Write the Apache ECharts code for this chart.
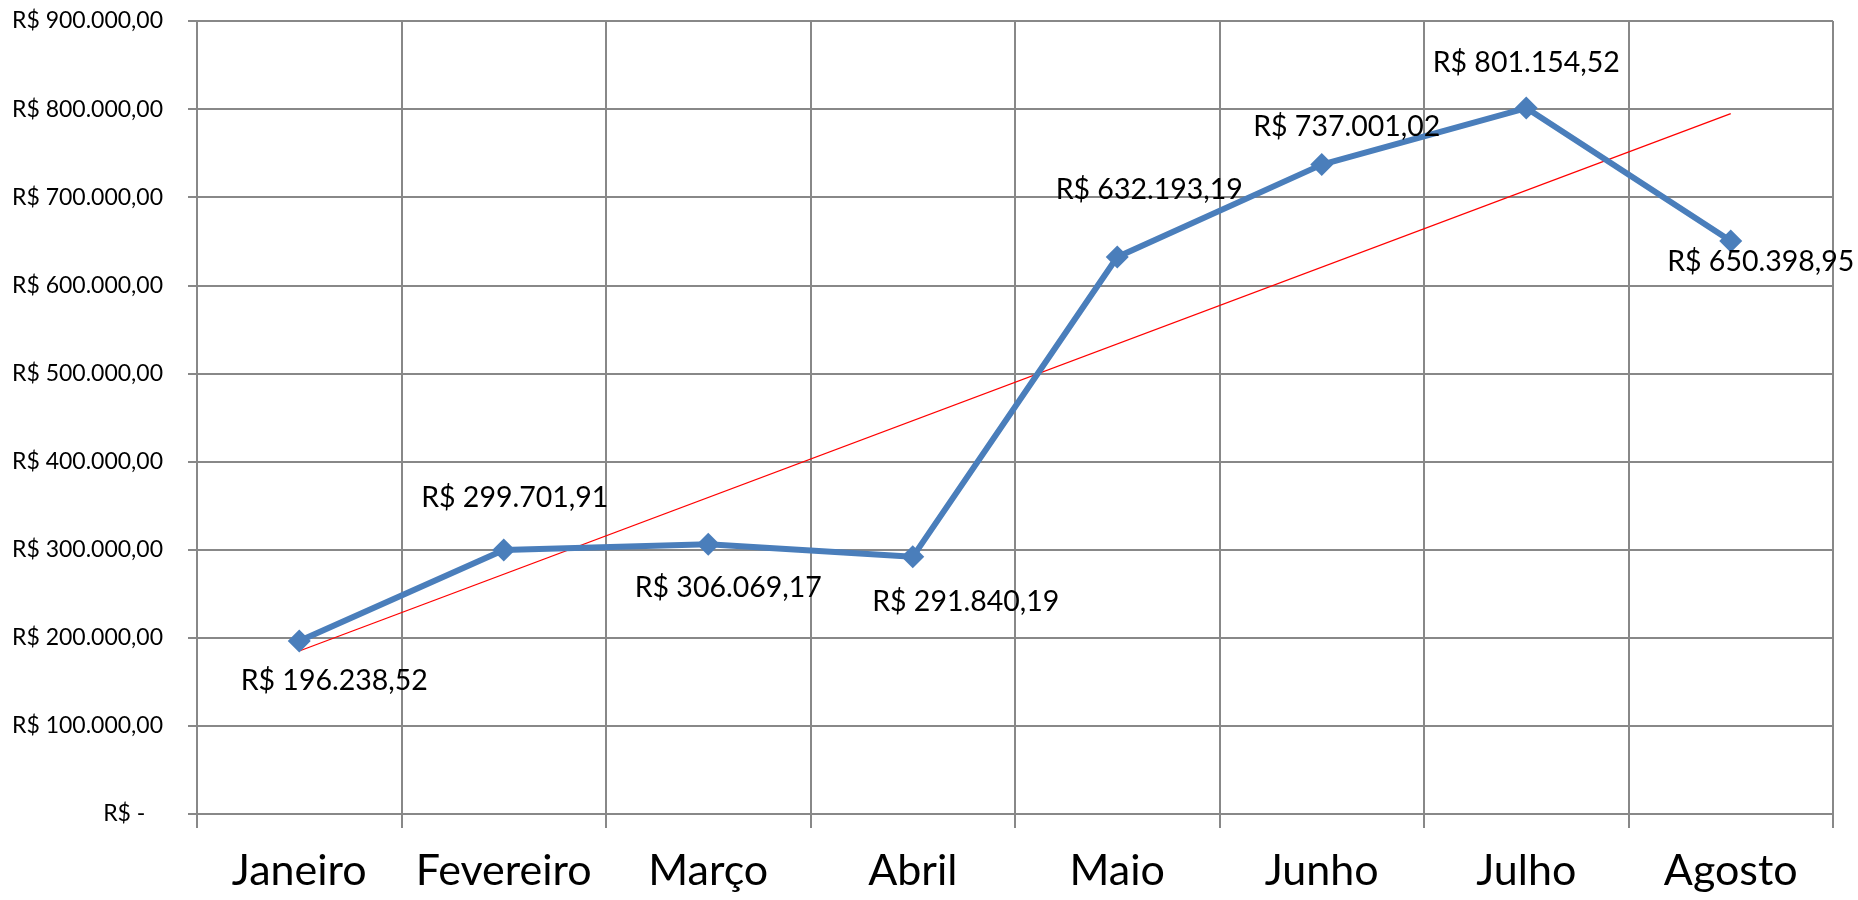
<!DOCTYPE html>
<html>
<head>
<meta charset="utf-8">
<script src="https://cdn.jsdelivr.net/npm/echarts@6/dist/echarts.min.js"></script>
<style>
html, body { margin: 0; padding: 0; background: #fff; }
#chart { width: 1858px; height: 900px; }
</style>
</head>
<body>
<div id="chart"></div>
<script>
// valores
const months = ['Janeiro', 'Fevereiro', 'Março', 'Abril', 'Maio', 'Junho', 'Julho', 'Agosto']
const revenue = [196238.52, 299701.91, 306069.17, 291840.19, 632193.19, 737001.02, 801154.52, 650398.95]
// linha de tendência: valor no primeiro e no último mês
const trendEnds = [185000, 795000]

// deslocamento dos rótulos em relação ao ponto (px)
const labelOffsets = [[35, 40], [11, -52], [20, 43], [53, 45], [32, -67], [25, -38], [0, -45], [30, 21]]

function brl (v, dec) {
    const parts = v.toFixed(dec).split('.')
    const int = parts[0].replace(/\B(?=(\d{3})+(?!\d))/g, '.')
    return 'R$ ' + int + (dec ? ',' + parts[1] : '')
}

const font = 'Lato'
const chart = echarts.init(document.getElementById('chart'))

const option = {
    animation: false,
    grid: {
        left: 197,
        right: 25,
        top: 21,
        bottom: 86
    },
    xAxis: {
        type: 'category',
        data: months,
        boundaryGap: true,
        axisLine: { show: true, lineStyle: { color: '#888', width: 2 } },
        axisTick: { show: true, length: 14, lineStyle: { color: '#888', width: 2 } },
        axisLabel: { color: '#000', fontFamily: font, fontSize: 43, margin: 36, interval: 0 },
        splitLine: { show: true, interval: 0, lineStyle: { color: '#888', width: 2 } }
    },
    yAxis: {
        type: 'value',
        min: 0,
        max: 900000,
        interval: 100000,
        axisLine: { show: true, lineStyle: { color: '#888', width: 2 } },
        axisTick: { show: true, length: 9, lineStyle: { color: '#888', width: 2 } },
        axisLabel: {
            color: '#000',
            fontFamily: font,
            fontSize: 23,
            margin: 34,
            formatter: v => v === 0 ? 'R$ -\u00a0\u00a0\u00a0' : brl(v, 2)
        },
        splitLine: { show: true, lineStyle: { color: '#888', width: 2 } }
    },
    series: [
        {
            name: 'Tendência',
            type: 'line',
            data: [[0, trendEnds[0]], [months.length - 1, trendEnds[1]]],
            symbol: 'none',
            silent: true,
            z: 3,
            lineStyle: { color: '#ff0000', width: 1.3 }
        },
        {
            name: 'Faturamento',
            type: 'line',
            data: revenue.map((v, i) => ({
                value: v,
                label: { offset: labelOffsets[i] }
            })),
            symbol: 'diamond',
            symbolSize: 23,
            z: 4,
            itemStyle: { color: '#4a7ebb' },
            lineStyle: { color: '#4a7ebb', width: 6 },
            label: {
                show: true,
                position: 'inside',
                align: 'center',
                verticalAlign: 'middle',
                color: '#000',
                fontFamily: font,
                fontSize: 28.5,
                formatter: p => brl(revenue[p.dataIndex], 2)
            }
        }
    ]
}

chart.setOption(option)
</script>
</body>
</html>
